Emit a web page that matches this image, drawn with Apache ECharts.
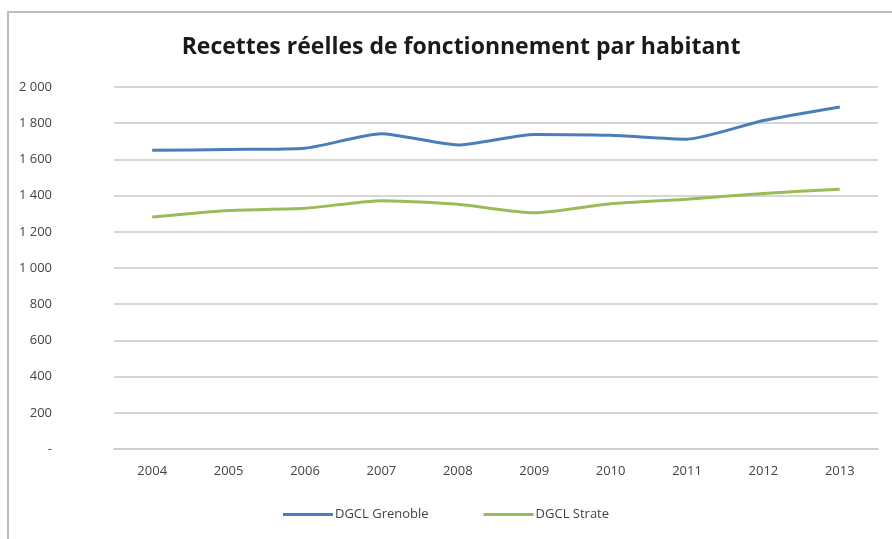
<!DOCTYPE html>
<html><head><meta charset="utf-8">
<script src="https://cdn.jsdelivr.net/npm/echarts@6/dist/echarts.min.js"></script>
<style>html,body{margin:0;padding:0;background:#fff}#c{width:892px;height:539px}</style>
</head><body><div id="c"></div>
<script>
const years = ['2004','2005','2006','2007','2008','2009','2010','2011','2012','2013'];
const grenoble = [1650, 1655, 1662, 1742, 1680, 1738, 1733, 1712, 1815, 1890];
const strate = [1282, 1318, 1330, 1372, 1352, 1305, 1355, 1380, 1412, 1435];
const yTicks = [0, 200, 400, 600, 800, 1000, 1200, 1400, 1600, 1800, 2000];

const chart = echarts.init(document.getElementById('c'));
chart.setOption({
  animation: false,
  backgroundColor: '#fff',
  graphic: [{type:'rect', shape:{x:8, y:12, width:900, height:540}, style:{fill:'none', stroke:'#bdbdbd', lineWidth:2}, silent:true}],
  title: {text: 'Recettes réelles de fonctionnement par habitant', left: 456, textAlign: 'center', top: 31,
    textStyle: {fontFamily: 'Open Sans', fontSize: 23, fontWeight: 'bold', color: '#1a1a1a'}},
  legend: {bottom: 13, left: 'center', itemWidth: 50, itemHeight: 3, itemGap: 55, icon: 'rect',
    textStyle: {fontFamily: 'Open Sans', fontSize: 13, color: '#444', padding: [0, 0, 0, -3]},
    data: ['DGCL Grenoble', 'DGCL Strate']},
  grid: {left: 114, right: 14, top: 87, bottom: 90},
  xAxis: {type: 'category', data: years, boundaryGap: true,
    axisLine: {lineStyle: {color: '#cfcfcf', width: 2}}, axisTick: {show: false},
    axisLabel: {fontFamily: 'Open Sans', fontSize: 13, color: '#444', margin: 16}},
  yAxis: {type: 'value', min: yTicks[0], max: yTicks[yTicks.length-1], interval: 200,
    axisLine: {show: false}, axisTick: {show: false},
    splitLine: {lineStyle: {color: '#d6d6d6', width: 2}},
    axisLabel: {fontFamily: 'Open Sans', fontSize: 13, color: '#444', margin: 62, align: 'right',
      formatter: v => v === 0 ? '-' : String(v).replace(/\B(?=(\d{3})+(?!\d))/g, ' ')}},
  series: [
    {name: 'DGCL Grenoble', type: 'line', data: grenoble, symbol: 'none', smooth: 0.2,
      lineStyle: {color: '#4a7ebb', width: 3}, itemStyle: {color: '#4a7ebb'}},
    {name: 'DGCL Strate', type: 'line', data: strate, symbol: 'none', smooth: 0.2,
      lineStyle: {color: '#9bbb59', width: 3}, itemStyle: {color: '#9bbb59'}}
  ]
});
</script></body></html>
